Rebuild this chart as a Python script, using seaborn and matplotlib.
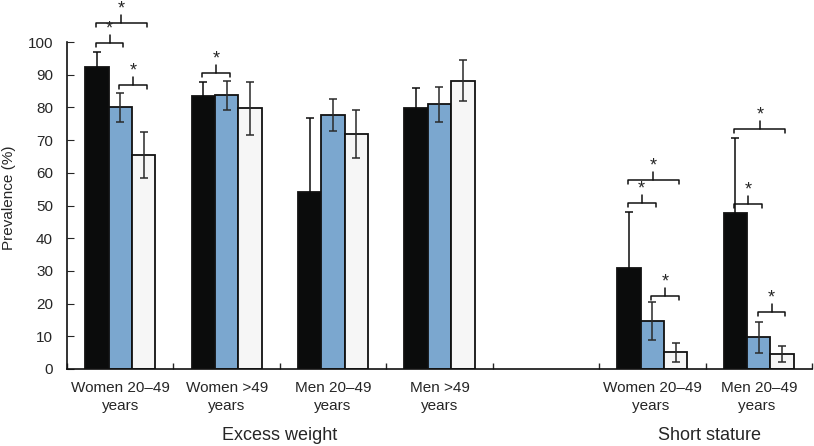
import matplotlib
matplotlib.use("Agg")
import matplotlib.pyplot as plt
import pandas as pd
import numpy as np
import seaborn as sns

# categorias (slot vacio entre los dos bloques)
categorias = ["Women 20–49\nyears", "Women >49\nyears", "Men 20–49\nyears", "Men >49\nyears",
              "", "Women 20–49\nyears ", "Men 20–49\nyears "]
grupos = ["Group 1", "Group 2", "Group 3"]

# valores (%) por grupo, en el orden de las categorias con datos
g1 = [92.5, 83.5, 54.0, 79.8, 31.0, 47.7]
g2 = [80.0, 83.7, 77.7, 80.9, 14.8, 9.7]
g3 = [65.5, 79.7, 71.9, 88.2, 5.1, 4.5]
err1 = [4.5, 4.4, 22.8, 6.0, 17.0, 22.8]
err2 = [4.4, 4.4, 5.0, 5.3, 5.8, 4.8]
err3 = [7.0, 8.0, 7.3, 6.3, 3.0, 2.4]

# comparaciones significativas: (categoria, grupo a, grupo b, altura)
signif = [(0, 0, 1, 99.7), (0, 0, 2, 105.8), (0, 1, 2, 86.9),
          (1, 0, 1, 90.6),
          (5, 0, 1, 50.8), (5, 0, 2, 57.8), (5, 1, 2, 22.3),
          (6, 0, 1, 50.5), (6, 0, 2, 73.4), (6, 1, 2, 17.4)]

cats_datos = [c for c in categorias if c != ""]
df = pd.DataFrame({
    "categoria": cats_datos * 3,
    "grupo": np.repeat(grupos, len(cats_datos)),
    "valor": g1 + g2 + g3,
    "error": err1 + err2 + err3,
})

sns.set_style("ticks")
plt.rcParams["font.family"] = ["Liberation Sans", "DejaVu Sans"]

fig, ax = plt.subplots(figsize=(8.14, 4.46), dpi=100)
fig.subplots_adjust(left=67 / 814, right=812 / 814, top=1 - 42 / 446, bottom=1 - 369 / 446)

colores = ["#0b0c0c", "#7ba7cf", "#f6f6f6"]
sns.barplot(data=df, x="categoria", y="valor", hue="grupo", order=categorias,
            hue_order=grupos, palette=colores, saturation=1, width=0.66, errorbar=None,
            edgecolor="#111111", linewidth=1.3, legend=False, ax=ax)

# barras de error a partir de las barras dibujadas
centros = {}
errores = [err1, err2, err3]
color_err = ["#0b0c0c", "#2a2a2a", "#2a2a2a"]
idx_datos = [i for i, c in enumerate(categorias) if c != ""]
contenedores = list(ax.containers)
for gi, cont in enumerate(contenedores):
    barras = sorted(cont.patches, key=lambda p: p.get_x())
    xs = [b.get_x() + b.get_width() / 2 for b in barras]
    hs = [b.get_height() for b in barras]
    ax.errorbar(xs, hs, yerr=errores[gi], fmt="none", ecolor=color_err[gi],
                elinewidth=1.1, capsize=3, capthick=1.1, zorder=5)
    for ci, x in zip(idx_datos, xs):
        centros[(ci, gi)] = x

# corchetes de significancia
for ci, a, b, y in signif:
    x0 = centros[(ci, a)] - 0.01
    x1 = centros[(ci, b)] + 0.03
    xm = (x0 + x1) / 2
    ax.plot([x0, x0, x1, x1], [y - 1.3, y, y, y - 1.3], color="#111111", lw=1.1, clip_on=False)
    ax.plot([xm, xm], [y, y + 2.4], color="#111111", lw=1.1, clip_on=False)
    ax.text(xm, y + 1.6, "*", ha="center", va="bottom", fontsize=13, clip_on=False)

ax.set_ylim(0, 100)
ax.set_xlim(-0.5, len(categorias) - 0.5)
ax.set_yticks(np.arange(0, 101, 10))
ax.set_ylabel("Prevalence (%)", fontsize=11)
ax.yaxis.set_label_coords(-0.068, 0.525)
ax.set_xlabel("")
ax.tick_params(axis="y", direction="in", length=5, labelsize=11, pad=10)
ax.tick_params(axis="x", which="major", length=0, labelsize=11, pad=9)
for t in ax.get_xticklabels():
    t.set_linespacing(1.35)
ax.set_xticks(np.arange(-0.5, len(categorias)), minor=True)
ax.tick_params(axis="x", which="minor", direction="in", length=4, width=1)
sns.despine(ax=ax)
for s in ["left", "bottom"]:
    ax.spines[s].set_linewidth(1.2)
    ax.spines[s].set_color("#111111")

# etiquetas de bloque
fig.text(280 / 814, 1 - 435 / 446, "Excess weight", ha="center", va="center", fontsize=13)
fig.text(710 / 814, 1 - 435 / 446, "Short stature", ha="center", va="center", fontsize=13)

fig.savefig("out.png", dpi=100)
